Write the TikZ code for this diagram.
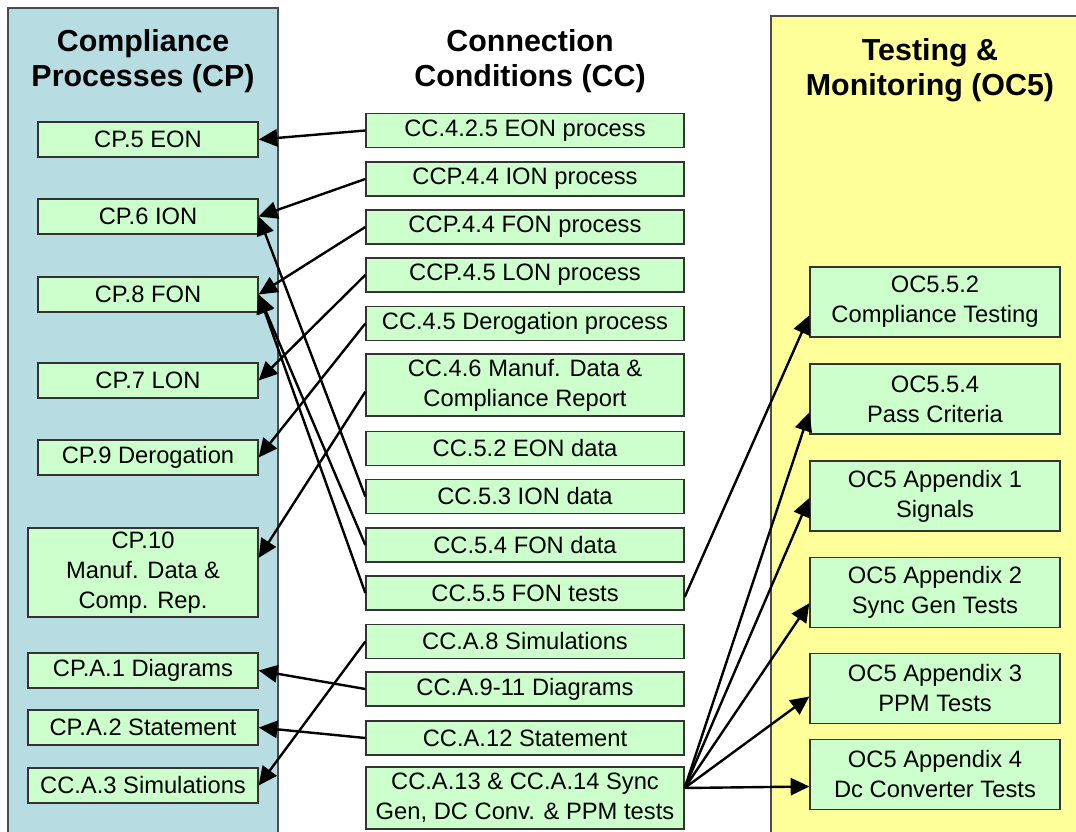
\documentclass[tikz,border=0pt]{standalone}
\usepackage{fontspec}
\setmainfont{Liberation Sans}
\usetikzlibrary{arrows.meta}
\definecolor{cpblue}{RGB}{183,221,227}
\definecolor{ocyellow}{RGB}{255,255,153}
\definecolor{boxgreen}{RGB}{204,255,204}

\begin{document}
\begin{tikzpicture}[x=0.75pt, y=-0.75pt,
  every node/.style={font=\fontsize{17.8}{22.5}\selectfont},
  box/.style={draw=black!80, line width=1pt, fill=boxgreen, align=center, inner sep=0pt},
  cpbox/.style={box, minimum width=165pt, minimum height=26.25pt},
  cpwide/.style={box, minimum width=172.5pt, minimum height=26.25pt},
  ccbox/.style={box, minimum width=238.5pt, minimum height=25.5pt},
  ocbox/.style={box, minimum width=187.5pt, minimum height=52.5pt},
  title/.style={font=\fontsize{22.8}{26.5}\selectfont\bfseries, align=center},
  link/.style={-{Triangle[length=14pt,width=13pt]}, line width=1.8pt}]

\useasboundingbox (0,0) rectangle (1076,832);
\clip (0,0) rectangle (1076,832);

% Define the two coloured columns
\draw[draw=black!70, line width=0.8pt, fill=cpblue] (8,8) rectangle (278,860);
\draw[draw=black!70, line width=0.8pt, fill=ocyellow] (771,16) rectangle (1100,860);

\node[title] (tCP) at (143,61) {Compliance\\Processes (CP)};
\node[title] (tCC) at (530,61) {Connection\\Conditions (CC)};
\node[title] (tOC) at (930,70) {Testing \&\\Monitoring (OC5)};

% Compliance processes
\node[cpbox] (CP5) at (148,139.5) {CP.5 EON};
\node[cpbox] (CP6) at (148,216.5) {CP.6 ION};
\node[cpbox] (CP8) at (148,294.5) {CP.8 FON};
\node[cpbox] (CP7) at (148,380.5) {CP.7 LON};
\node[cpbox] (CP9) at (148,457.5) {CP.9 Derogation};
\node[cpwide, minimum height=66.75pt] (CP10) at (143,572.5) {CP.10\\Manuf. Data \&\\Comp. Rep.};
\node[cpwide] (CPA1) at (143,670.5) {CP.A.1 Diagrams};
\node[cpwide] (CPA2) at (143,727.5) {CP.A.2 Statement};
\node[cpwide] (CCA3) at (143,785.5) {CC.A.3 Simulations};

% Connection conditions
\node[ccbox] (CC425) at (525,130.5) {CC.4.2.5 EON process};
\node[ccbox] (CCP44i) at (525,179) {CCP.4.4 ION process};
\node[ccbox] (CCP44f) at (525,227) {CCP.4.4 FON process};
\node[ccbox] (CCP45) at (525,275) {CCP.4.5 LON process};
\node[ccbox] (CC45) at (525,323.5) {CC.4.5 Derogation process};
\node[ccbox, minimum height=46.5pt] (CC46) at (525,385) {CC.4.6 Manuf. Data \&\\Compliance Report};
\node[ccbox] (CC52) at (525,448.5) {CC.5.2 EON data};
\node[ccbox] (CC53) at (525,496.5) {CC.5.3 ION data};
\node[ccbox] (CC54) at (525,545) {CC.5.4 FON data};
\node[ccbox] (CC55) at (525,593) {CC.5.5 FON tests};
\node[ccbox] (CCA8) at (525,641.5) {CC.A.8 Simulations};
\node[ccbox] (CCA9) at (525,689) {CC.A.9-11 Diagrams};
\node[ccbox] (CCA12) at (525,738) {CC.A.12 Statement};
\node[ccbox, minimum height=46.5pt] (CCA13) at (525,798) {CC.A.13 \& CC.A.14 Sync\\Gen, DC Conv. \& PPM tests};

% Testing and monitoring
\node[ocbox] (OC552) at (935,302) {OC5.5.2\\Compliance Testing};
\node[ocbox] (OC554) at (935,399) {OC5.5.4\\Pass Criteria};
\node[ocbox] (App1) at (935,496) {OC5 Appendix 1\\Signals};
\node[ocbox] (App2) at (935,592.5) {OC5 Appendix 2\\Sync Gen Tests};
\node[ocbox] (App3) at (935,688.5) {OC5 Appendix 3\\PPM Tests};
\node[ocbox] (App4) at (935,774.5) {OC5 Appendix 4\\Dc Converter Tests};

% CC -> CP
\draw[link] (CC425.west) -- (CP5.east);
\draw[link] (CCP44i.west) -- (CP6.east);
\draw[link] (CCP44f.west) -- (CP8.east);
\draw[link] (CCP45.west) -- (CP7.east);
\draw[link] (CC45.west) -- (CP9.east);
\draw[link] ([yshift=-5pt]CC46.west) -- ([yshift=11pt]CP10.east);
\draw[link] (CC53.west) -- (CP6.east);
\draw[link] (CC54.west) -- (CP8.east);
\draw[link] (CC55.west) -- (CP8.east);
\draw[link] (CCA8.west) -- (CCA3.east);
\draw[link] (CCA9.west) -- (CPA1.east);
\draw[link] (CCA12.west) -- (CPA2.east);

% CC -> OC5
\coordinate (src) at ([yshift=7.5pt]CCA13.east);
\draw[link] ([yshift=-3pt]CC55.east) -- ([yshift=-10pt]OC552.west);
\draw[link] (src) -- ([yshift=-10pt]OC554.west);
\draw[link] (src) -- ([yshift=-1.5pt]App1.west);
\draw[link] (src) -- ([yshift=-8pt]App2.west);
\draw[link] (src) -- ([yshift=-6pt]App3.west);
\draw[link] (src) -- ([yshift=-9pt]App4.west);

\end{tikzpicture}
\end{document}
